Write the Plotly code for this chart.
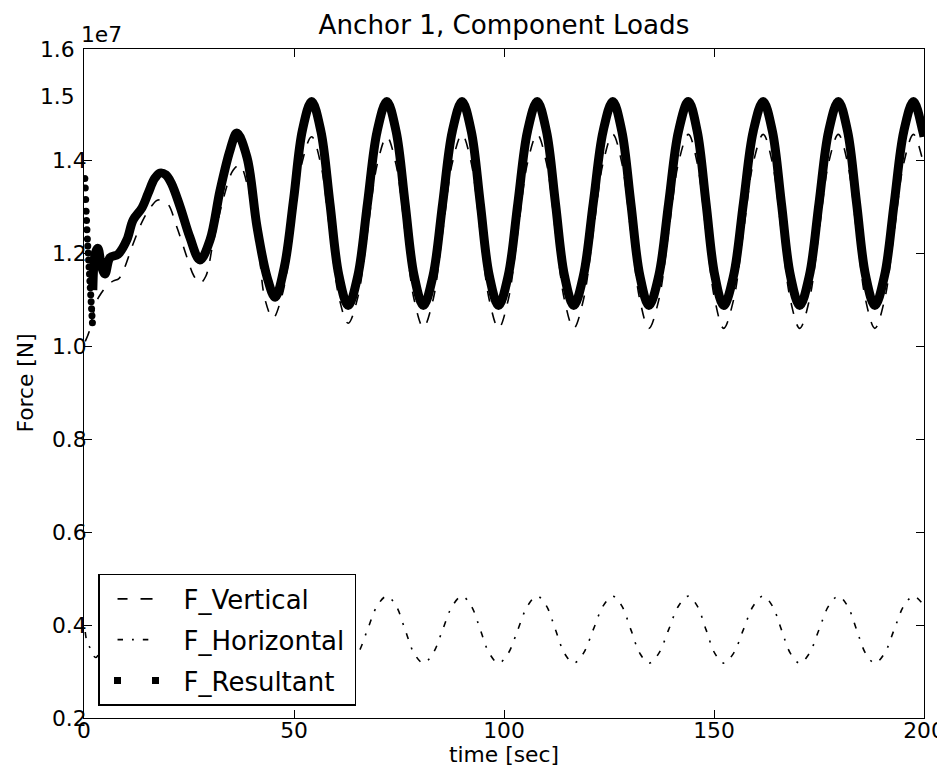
import plotly.graph_objects as go

# ---------------- data (force in units of 1e7 N, time in sec) ----------------
# Resultant: early transient samples (seen as scattered dots)
t_res_transient = [0.2, 0.3, 0.4, 0.5, 0.6, 0.7, 0.8, 0.9, 1.0, 1.1, 1.2, 1.3,
                   1.4, 1.5, 1.6, 1.7, 1.8, 1.9, 2.0]
f_res_transient = [1.36, 1.34, 1.315, 1.29, 1.27, 1.25, 1.23, 1.215, 1.20, 1.185,
                   1.17, 1.155, 1.14, 1.125, 1.11, 1.095, 1.08, 1.065, 1.05]

# Resultant: main curve
t_res = [2.1, 2.7, 3.3, 4.2, 5.0, 6.2, 8.1, 10.2, 11.7, 13.8, 15.3, 16.8, 18.1,
         19.5, 20.8, 22.9, 25.2, 27.6, 30.0, 32.4, 34.8, 36.4, 38.8, 41.2, 43.6,
         45.5, 47.7, 49.9, 52.0,
         54.2, 56.4, 58.55, 60.7, 62.9, 65.2, 67.5, 69.8,
         72.1, 74.3, 76.45, 78.6, 80.8, 83.1, 85.4, 87.7,
         90.0, 92.2, 94.35, 96.5, 98.7, 101.0, 103.3, 105.6,
         107.9, 110.1, 112.25, 114.4, 116.6, 118.9, 121.25, 123.6,
         125.9, 128.05, 130.2, 132.35, 134.5, 136.85, 139.2, 141.55,
         143.9, 146.0, 148.1, 150.2, 152.3, 154.65, 157.0, 159.35,
         161.7, 163.9, 166.05, 168.2, 170.4, 172.7, 175.0, 177.3,
         179.6, 181.8, 183.95, 186.1, 188.3, 190.6, 192.9, 195.2,
         197.5, 199.7, 200.0]
f_res = [1.12, 1.20, 1.21, 1.17, 1.155, 1.19, 1.197, 1.228, 1.271, 1.297, 1.329, 1.36, 1.372,
         1.368, 1.35, 1.299, 1.234, 1.185, 1.228, 1.335, 1.422, 1.458, 1.406, 1.256, 1.148,
         1.105, 1.17, 1.315, 1.464,
         1.526, 1.462, 1.307, 1.151, 1.087, 1.151, 1.307, 1.462,
         1.526, 1.462, 1.307, 1.151, 1.087, 1.151, 1.307, 1.462,
         1.526, 1.462, 1.307, 1.151, 1.087, 1.151, 1.307, 1.462,
         1.526, 1.462, 1.307, 1.151, 1.087, 1.151, 1.307, 1.462,
         1.526, 1.462, 1.307, 1.151, 1.087, 1.151, 1.307, 1.462,
         1.526, 1.462, 1.307, 1.151, 1.087, 1.151, 1.307, 1.462,
         1.526, 1.462, 1.307, 1.151, 1.087, 1.151, 1.307, 1.462,
         1.526, 1.462, 1.307, 1.151, 1.087, 1.151, 1.307, 1.462,
         1.526, 1.462, 1.45]

# Vertical component
t_vert = [0.3, 1.2, 2.2, 3.2, 4.2, 5.5, 7.0, 8.3, 9.5, 11.7, 14.0, 16.0, 17.6,
          19.8, 22.1, 24.5, 26.2, 27.6, 29.0, 30.7, 33.1, 35.5, 37.1, 39.0, 41.2,
          43.1, 45.0, 47.1, 49.3, 51.8,
          54.2, 56.4, 58.55, 60.7, 62.9, 65.2, 67.5, 69.8,
          72.1, 74.3, 76.45, 78.6, 80.8, 83.1, 85.4, 87.7,
          90.0, 92.2, 94.35, 96.5, 98.7, 101.0, 103.3, 105.6,
          107.9, 110.1, 112.25, 114.4, 116.6, 118.9, 121.25, 123.6,
          125.9, 128.05, 130.2, 132.35, 134.5, 136.85, 139.2, 141.55,
          143.9, 146.0, 148.1, 150.2, 152.3, 154.65, 157.0, 159.35,
          161.7, 163.9, 166.05, 168.2, 170.4, 172.7, 175.0, 177.3,
          179.6, 181.8, 183.95, 186.1, 188.3, 190.6, 192.9, 195.2,
          197.5, 199.7, 200.0]
f_vert = [1.01, 1.03, 1.07, 1.10, 1.115, 1.13, 1.14, 1.145, 1.165, 1.22, 1.27, 1.30, 1.314,
          1.307, 1.256, 1.191, 1.15, 1.135, 1.15, 1.22, 1.314, 1.378, 1.389, 1.342, 1.243,
          1.10, 1.06, 1.107, 1.22, 1.39,
          1.45, 1.39, 1.246, 1.105, 1.049, 1.105, 1.246, 1.39,
          1.45, 1.39, 1.246, 1.10, 1.04, 1.099, 1.246, 1.394,
          1.455, 1.394, 1.246, 1.099, 1.038, 1.099, 1.246, 1.394,
          1.455, 1.394, 1.246, 1.099, 1.038, 1.099, 1.246, 1.394,
          1.455, 1.394, 1.246, 1.099, 1.038, 1.099, 1.246, 1.394,
          1.455, 1.394, 1.246, 1.099, 1.038, 1.099, 1.246, 1.394,
          1.455, 1.394, 1.246, 1.099, 1.038, 1.099, 1.246, 1.394,
          1.455, 1.394, 1.246, 1.099, 1.038, 1.099, 1.246, 1.394,
          1.455, 1.40, 1.39]

# Horizontal component
t_hor = [0.3, 0.8, 1.5, 2.2, 2.8, 4.5, 9.0, 13.5, 18.1, 22.9, 27.6, 32.0, 36.4,
         41.0, 45.5, 49.9, 54.2, 58.55, 62.9, 65.2, 67.5, 69.8,
         72.1, 74.3, 76.45, 78.6, 80.8, 83.1, 85.4, 87.7,
         90.0, 92.2, 94.35, 96.5, 98.7, 101.0, 103.3, 105.6,
         107.9, 110.1, 112.25, 114.4, 116.6, 118.9, 121.25, 123.6,
         125.9, 128.05, 130.2, 132.35, 134.5, 136.85, 139.2, 141.55,
         143.9, 146.0, 148.1, 150.2, 152.3, 154.65, 157.0, 159.35,
         161.7, 163.9, 166.05, 168.2, 170.4, 172.7, 175.0, 177.3,
         179.6, 181.8, 183.95, 186.1, 188.3, 190.6, 192.9, 195.2,
         197.5, 199.7, 200.0]
f_hor = [0.385, 0.36, 0.35, 0.335, 0.33, 0.35, 0.38, 0.40, 0.42, 0.39, 0.36, 0.40, 0.44,
         0.39, 0.33, 0.39, 0.46, 0.39, 0.318, 0.339, 0.390, 0.441,
         0.462, 0.441, 0.390, 0.339, 0.318, 0.339, 0.390, 0.441,
         0.462, 0.441, 0.390, 0.339, 0.318, 0.339, 0.390, 0.441,
         0.462, 0.441, 0.390, 0.339, 0.318, 0.339, 0.390, 0.441,
         0.462, 0.441, 0.390, 0.339, 0.318, 0.339, 0.390, 0.441,
         0.462, 0.441, 0.390, 0.339, 0.318, 0.339, 0.390, 0.441,
         0.462, 0.441, 0.390, 0.339, 0.318, 0.339, 0.390, 0.441,
         0.462, 0.441, 0.390, 0.339, 0.318, 0.339, 0.390, 0.441,
         0.462, 0.445, 0.44]

x_ticks = [0, 50, 100, 150, 200]
y_ticks = [0.2, 0.4, 0.6, 0.8, 1.0, 1.2, 1.4]
y_tick_text = ["0.2", "0.4", "0.6", "0.8", "1.0", "1.2", "1.4"]
y_range = [0.2, 1.6387]
legend_names = ["F_Vertical", "F_Horizontal\u2009", "F_Resultant"]

FONT = "DejaVu Sans"
fig = go.Figure()

# data traces
fig.add_trace(go.Scatter(x=t_vert, y=f_vert, mode="lines", showlegend=False,
                         line=dict(color="black", width=1.6, dash="11px,11px", shape="spline")))
fig.add_trace(go.Scatter(x=t_hor, y=f_hor, mode="lines", showlegend=False,
                         line=dict(color="black", width=1.6, dash="6px,9px,2px,9px", shape="spline")))
fig.add_trace(go.Scatter(x=t_res, y=f_res, mode="lines", showlegend=False,
                         line=dict(color="black", width=9, shape="spline")))
fig.add_trace(go.Scatter(x=t_res_transient, y=f_res_transient, mode="markers",
                         showlegend=False, marker=dict(color="black", size=7)))

# legend entries (matplotlib-like short samples)
legend_dash = ["0px,13px,10px,13px,12px,300px",
               "0px,13px,5.5px,9px,1.8px,9px,5.5px,300px",
               "0px,9.5px,7px,31px,7px,300px"]
legend_width = [1.6, 1.6, 7]
for i, nm in enumerate(legend_names):
    fig.add_trace(go.Scatter(x=[None], y=[None], mode="lines", name=nm,
                             legendgroup="g%d" % i,
                             line=dict(color="black", width=legend_width[i], dash=legend_dash[i])))

fig.update_layout(
    width=937, height=761,
    margin=dict(l=76, r=21, t=41, b=51),
    paper_bgcolor="white", plot_bgcolor="white",
    font=dict(family=FONT, size=21.8, color="black"),
    title=dict(text="Anchor 1, Component Loads", font=dict(size=26.2, family=FONT, color="black"),
               x=0.5, xref="paper", xanchor="center", y=1 - 17 / 761, yanchor="middle"),
    showlegend=True,
    legend=dict(x=0.0167, y=0.018, xanchor="left", yanchor="bottom",
                bgcolor="white", bordercolor="black", borderwidth=1.5,
                font=dict(size=26, family=FONT, color="black"),
                itemwidth=74, traceorder="grouped", tracegroupgap=4),
    xaxis=dict(range=[0, 200], tickvals=x_ticks, ticks="inside", ticklen=8, tickwidth=1,
               tickcolor="black", showline=True, linecolor="black", linewidth=1,
               mirror="ticks", showgrid=False, zeroline=False, automargin=False,
               ticklabelstandoff=-7),
    yaxis=dict(range=y_range, tickvals=y_ticks, ticktext=y_tick_text, ticks="inside",
               ticklen=8, tickwidth=1, tickcolor="black", showline=True, linecolor="black",
               linewidth=1, mirror="ticks", showgrid=False, zeroline=False, automargin=False,
               ticklabelstandoff=-8),
    annotations=[
        dict(text="time [sec]", x=0.5, xref="paper", y=-0.0553, yref="paper",
             xanchor="center", yanchor="middle", showarrow=False,
             font=dict(size=21.8, family=FONT)),
        dict(text="Force [N]", x=-0.0702, xref="paper", y=0.5, yref="paper", textangle=-90,
             xanchor="center", yanchor="middle", showarrow=False,
             font=dict(size=21.8, family=FONT)),
        dict(text="1.5", x=0, xref="paper", y=1.5355, yref="y", xanchor="right",
             yanchor="middle", xshift=-7, showarrow=False, font=dict(size=21.8, family=FONT)),
        dict(text="1.6", x=0, xref="paper", y=1.0, yref="paper", xanchor="right",
             yanchor="middle", xshift=-7, showarrow=False, font=dict(size=21.8, family=FONT)),
        dict(text="1e7", x=0, xref="paper", y=1.0, yref="paper", xanchor="left",
             yanchor="bottom", xshift=-5, showarrow=False, font=dict(size=21.8, family=FONT)),
    ],
)

fig.write_html("out.html")
